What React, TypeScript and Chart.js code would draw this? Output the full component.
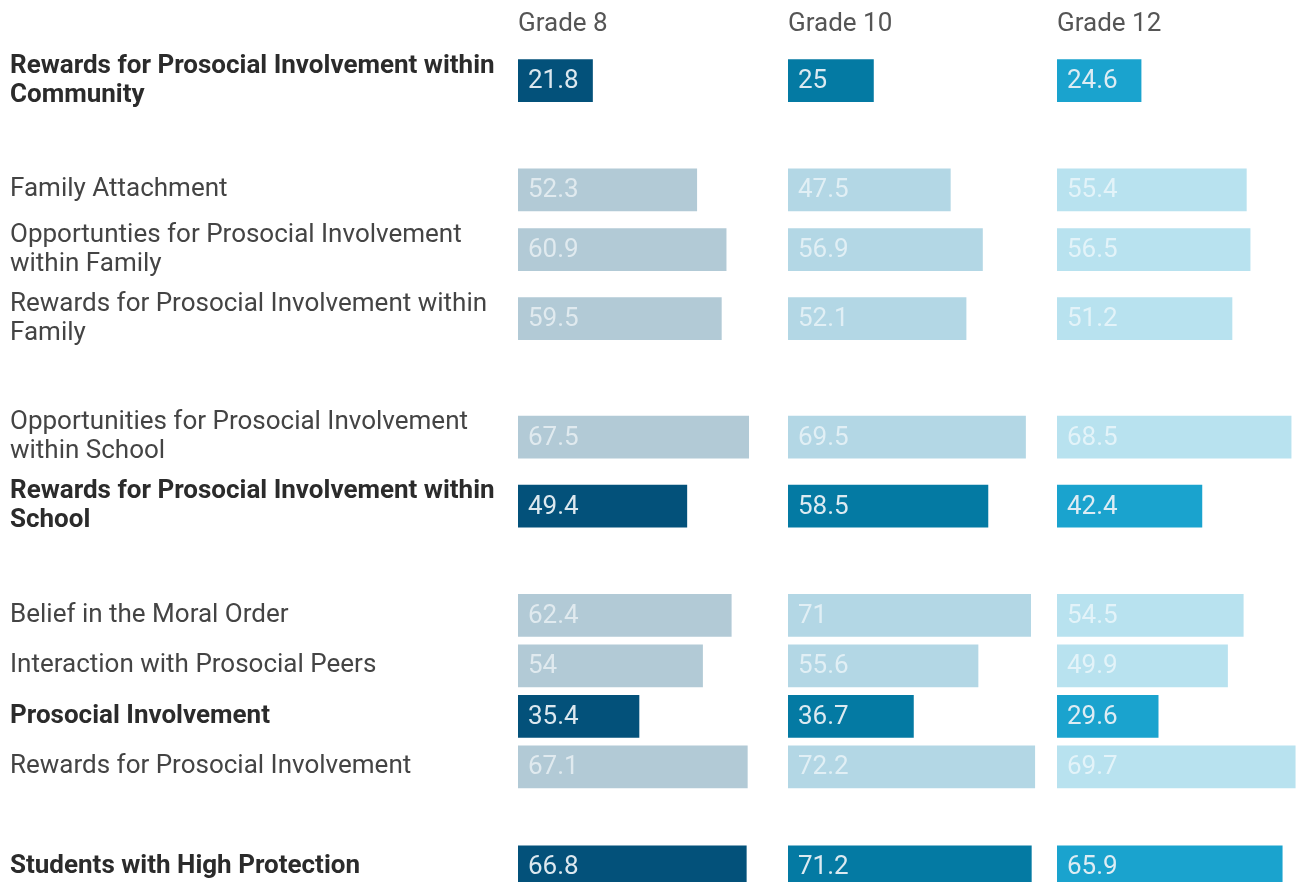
import React, { useEffect, useRef } from "react";
import { Chart, registerables } from "chart.js";

Chart.register(...registerables);

const rowLabels: string[][] = [
  ["Rewards for Prosocial Involvement within", "Community"],
  ["Family Attachment"],
  ["Opportunties for Prosocial Involvement", "within Family"],
  ["Rewards for Prosocial Involvement within", "Family"],
  ["Opportunities for Prosocial Involvement", "within School"],
  ["Rewards for Prosocial Involvement within", "School"],
  ["Belief in the Moral Order"],
  ["Interaction with Prosocial Peers"],
  ["Prosocial Involvement"],
  ["Rewards for Prosocial Involvement"],
  ["Students with High Protection"],
];
const rowGroups = [0, 1, 1, 1, 2, 2, 3, 3, 3, 3, 4];
const highlighted = [true, false, false, false, false, true, false, false, true, false, true];

const gradeTitles = ["Grade 8", "Grade 10", "Grade 12"];
const grade8 = [21.8, 52.3, 60.9, 59.5, 67.5, 49.4, 62.4, 54, 35.4, 67.1, 66.8];
const grade10 = [25, 47.5, 56.9, 52.1, 69.5, 58.5, 71, 55.6, 36.7, 72.2, 71.2];
const grade12 = [24.6, 55.4, 56.5, 51.2, 68.5, 42.4, 54.5, 49.9, 29.6, 69.7, 65.9];

const darkColors = ["#03517a", "#047aa3", "#1aa3ce"];
const lightColors = ["#b2cad6", "#b3d7e5", "#b8e2ef"];

// layout constants
const CANVAS_H = 882;
const FONT_SIZE = 26;
const TITLE_PAD_TOP = 9;
const TITLE_PAD_BOTTOM = 6;
const TITLE_H = FONT_SIZE * 1.2 + TITLE_PAD_TOP + TITLE_PAD_BOTTOM;
const ROW_1 = 50.5;
const ROW_2 = 69;
const GROUP_GAP = 49.5;
const LABEL_W = 518;
const PANEL_W = 270;
const X_MAX = 79;
const PANEL_LEFTS = [0, 788, 1057];

function rowCenters(): number[] {
  const out: number[] = [];
  let y = 0;
  rowLabels.forEach((l, i) => {
    if (i > 0 && rowGroups[i] !== rowGroups[i - 1]) y += GROUP_GAP;
    const h = l.length > 1 ? ROW_2 : ROW_1;
    out.push(y + h / 2);
    y += h;
  });
  return out;
}

const valueLabelPlugin = {
  id: "valueLabels",
  afterDatasetsDraw(chart: any) {
    const ctx = chart.ctx;
    const meta = chart.getDatasetMeta(0);
    const ds = chart.data.datasets[0];
    const x0 = chart.scales.x.getPixelForValue(0);
    ctx.save();
    ctx.font = "400 " + FONT_SIZE + "px Roboto";
    ctx.textBaseline = "middle";
    ctx.textAlign = "left";
    meta.data.forEach((bar: any, i: number) => {
      const v = ds.data[i].x;
      ctx.fillStyle = highlighted[i] ? "rgba(232,240,245,0.95)" : "rgba(255,255,255,0.6)";
      ctx.fillText(String(v), x0 + 10, bar.y + 1);
    });
    ctx.restore();
  },
};

function Panel({ gi, values, withLabels }: { gi: number; values: number[]; withLabels: boolean }) {
  const ref = useRef<HTMLCanvasElement>(null);
  const width = withLabels ? LABEL_W + PANEL_W : PANEL_W;
  useEffect(() => {
    const centers = rowCenters();
    const chart = new Chart(ref.current as HTMLCanvasElement, {
      type: "bar",
      data: {
        datasets: [
          {
            data: values.map((v, i) => ({ x: v, y: centers[i] })),
            backgroundColor: values.map((_, i) => (highlighted[i] ? darkColors[gi] : lightColors[gi])),
            borderWidth: 0,
            barThickness: 42,
          },
        ],
      },
      options: {
        indexAxis: "y",
        responsive: false,
        animation: false,
        layout: { padding: { left: withLabels ? 10 : 0, right: 0, top: 0, bottom: 0 } },
        plugins: {
          legend: { display: false },
          tooltip: { enabled: false },
          title: {
            display: true,
            text: gradeTitles[gi],
            align: "start",
            fullSize: false,
            color: "#555555",
            font: { family: "Roboto", size: FONT_SIZE, weight: "normal" },
            padding: { top: TITLE_PAD_TOP, bottom: TITLE_PAD_BOTTOM },
          },
        },
        scales: {
          x: { type: "linear", min: 0, max: X_MAX, display: false, offset: false },
          y: {
            type: "linear",
            reverse: true,
            offset: false,
            min: 0,
            max: CANVAS_H - TITLE_H,
            bounds: "data",
            display: true,
            grid: { display: false, offset: false },
            border: { display: false },
            afterFit: (scale: any) => {
              scale.width = withLabels ? LABEL_W - 10 : 0;
              scale.paddingTop = 0;
              scale.paddingBottom = 0;
            },
            afterBuildTicks: (scale: any) => {
              scale.ticks = centers.map((c) => ({ value: c }));
            },
            ticks: {
              display: withLabels,
              autoSkip: false,
              crossAlign: "far",
              padding: 0,
              callback: (_v: any, i: number) => rowLabels[i],
              color: (ctx: any) => (highlighted[ctx.index] ? "#2b2b2b" : "#444444"),
              font: (ctx: any) => ({
                family: "Roboto",
                size: FONT_SIZE,
                weight: highlighted[ctx.index] ? "bold" : "normal",
                lineHeight: 1.13,
              }),
            },
          },
        },
      } as any,
      plugins: [valueLabelPlugin],
    });
    return () => chart.destroy();
  }, []);
  return (
    <canvas
      ref={ref}
      width={width}
      height={CANVAS_H}
      style={{ position: "absolute", left: PANEL_LEFTS[gi], top: 0, width, height: CANVAS_H }}
    />
  );
}

export default function App() {
  return (
    <div
      style={{
        position: "fixed",
        left: 0,
        top: 0,
        width: 1298,
        height: CANVAS_H,
        overflow: "hidden",
        background: "#ffffff",
      }}
    >
      <Panel gi={0} values={grade8} withLabels={true} />
      <Panel gi={1} values={grade10} withLabels={false} />
      <Panel gi={2} values={grade12} withLabels={false} />
    </div>
  );
}
